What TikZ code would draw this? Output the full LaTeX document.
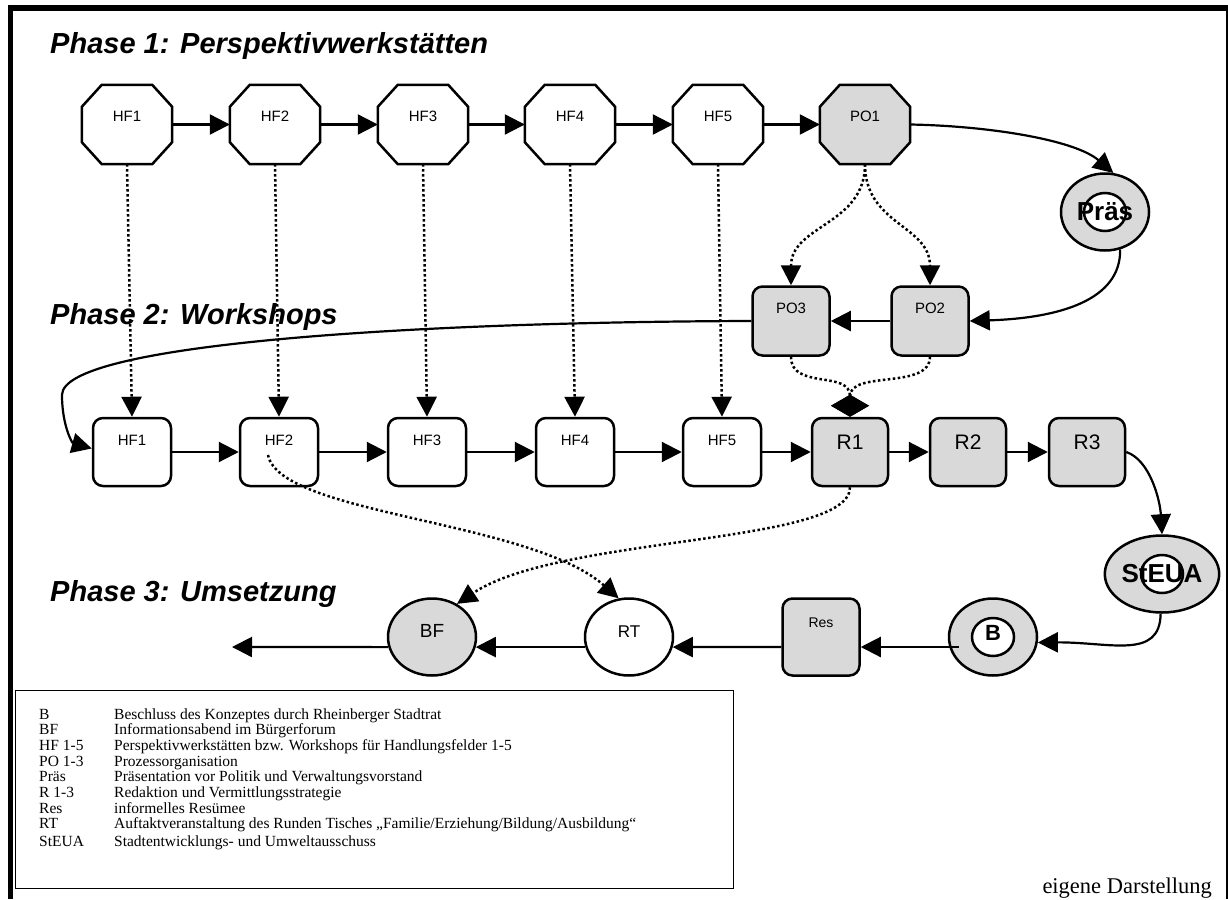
\documentclass[tikz,border=0pt]{standalone}
\usepackage{fontspec}
\setmainfont{Liberation Serif}
\setsansfont{Liberation Sans}
\usetikzlibrary{arrows.meta,calc,shapes.geometric,backgrounds}
\definecolor{nodegray}{RGB}{217,217,217}
\tikzset{
  title/.style={font=\sffamily\bfseries\itshape\fontsize{29}{29}\selectfont, inner sep=0pt},
  octo/.style={rectangle, draw=none, minimum width=90pt, minimum height=79pt, inner sep=0pt,
    text height=11pt, text depth=18pt, font=\sffamily\fontsize{15}{15}\selectfont},
  octline/.style={line width=2.5pt, line join=miter},
  rbox/.style={rectangle, rounded corners=10pt, draw, line width=2.5pt, inner sep=0pt, fill=#1},
  hfbox/.style={rbox=white, minimum width=78pt, minimum height=68pt, text height=11pt, text depth=24pt, font=\sffamily\fontsize{15}{15}\selectfont},
  rrbox/.style={rbox=nodegray, minimum width=76pt, minimum height=68pt, text height=15pt, text depth=20pt, font=\sffamily\fontsize{21}{21}\selectfont},
  pobox/.style={rbox=nodegray, minimum width=77pt, minimum height=69pt, text height=11pt, text depth=26pt, font=\sffamily\fontsize{15}{15}\selectfont},
  resbox/.style={rbox=nodegray, minimum width=77pt, minimum height=77pt, text height=10pt, text depth=30pt, font=\sffamily\fontsize{14}{14}\selectfont},
  ell/.style={ellipse, draw, line width=2.5pt, minimum width=88pt, minimum height=77pt, inner sep=0pt, fill=#1},
  dbl/.style={ell=nodegray, font=\sffamily\bfseries\fontsize{#1}{#1}\selectfont,
    path picture={\draw[line width=2.5pt, fill=white] (path picture bounding box.center) ellipse (21pt and 19pt);}},
  conn/.style={line width=2.2pt, -{Triangle[length=20pt,width=20pt]}},
  dot/.style={line width=2.5pt, dash pattern=on 2.5pt off 2.5pt, -{Triangle[length=20pt,width=20pt]}},
  dotd/.style={line width=2.5pt, dash pattern=on 2.5pt off 2.5pt, -{Diamond[length=22pt,width=38pt]}},
}
\begin{document}
\begin{tikzpicture}[x=1pt,y=-1pt]
\useasboundingbox (0,0) rectangle (1228,899);
% frame
\draw[line width=6pt] (8,8) -- (1228,8);
\draw[line width=5pt] (10,5) -- (10,899);
\draw[line width=1.5pt] (1227,8) -- (1227,899);

% titles
\node[title, anchor=base west] (t1) at (50,54) {Phase 1: Perspektivwerkstätten};
\node[title, anchor=base west] (t2) at (50,324) {Phase 2: Workshops};
\node[title, anchor=base west] (t3) at (50,601) {Phase 3: Umsetzung};

% phase 1
\node[octo] (a1) at (127,124.5) {HF1};
\node[octo] (a2) at (275,124.5) {HF2};
\node[octo] (a3) at (423,124.5) {HF3};
\node[octo] (a4) at (570,124.5) {HF4};
\node[octo] (a5) at (718,124.5) {HF5};
\node[octo] (a6) at (865,124.5) {PO1};
\begin{scope}[on background layer]
\foreach \n/\c in {a1/white,a2/white,a3/white,a4/white,a5/white,a6/nodegray}
  \draw[octline, fill=\c] ($(\n.north west)+(20,0)$) -- ($(\n.north east)+(-20,0)$) -- ($(\n.north east)+(0,22)$)
    -- ($(\n.south east)+(0,-22)$) -- ($(\n.south east)+(-20,0)$) -- ($(\n.south west)+(20,0)$)
    -- ($(\n.south west)+(0,-22)$) -- ($(\n.north west)+(0,22)$) -- cycle;
\end{scope}
\node[dbl=26] (pras) at (1105,212) {Präs};
\node[pobox] (po2) at (930,321) {PO2};
\node[pobox] (po3) at (791,321) {PO3};

% phase 2
\node[hfbox] (b1) at (132,452) {HF1};
\node[hfbox] (b2) at (279,452) {HF2};
\node[hfbox] (b3) at (427,452) {HF3};
\node[hfbox] (b4) at (575,452) {HF4};
\node[hfbox] (b5) at (722,452) {HF5};
\node[rrbox] (r1) at (850,452) {R1};
\node[rrbox] (r2) at (968,452) {R2};
\node[rrbox] (r3) at (1087,452) {R3};
\node[dbl=26] (steua) at (1162,574) {StEUA};

% phase 3
\node[dbl=22, text height=13pt, text depth=7pt] (bb) at (993,637) {B};
\node[resbox] (res) at (821,637) {Res};
\node[ell=white, text height=13pt, text depth=13pt, font=\sffamily\fontsize{17}{17}\selectfont] (rt) at (629,637) {RT};
\node[ell=nodegray, text height=14pt, text depth=14pt, font=\sffamily\fontsize{19}{19}\selectfont] (bf) at (432,637) {BF};
\coordinate (out) at (232,647);

% phase 1 connectors
\foreach \i/\j in {1/2,2/3,3/4,4/5,5/6} \draw[conn] (a\i.east) -- (a\j.west);
\draw[conn] (a6.east) .. controls (990,126) and (1075,140) .. (pras.78);
\draw[conn] (pras.-68) .. controls (1121,300) and (1060,318) .. (po2.east);
\draw[conn] (po2.west) -- (po3.east);
\draw[dot] (a6.south) .. controls (865,225) and (791,225) .. (po3.north);
\draw[dot] (a6.south) .. controls (865,225) and (930,225) .. (po2.north);
\draw[conn] (po3.west) .. controls (400,322) and (62,345) .. (62,395) .. controls (62,425) and (72,443) .. (b1.175);
\foreach \i in {1,...,5} \draw[dot] (a\i.south) -- (b\i.north);

% phase 2 connectors
\foreach \i/\j in {b1/b2,b2/b3,b3/b4,b4/b5,b5/r1,r1/r2,r2/r3} \draw[conn] (\i.east) -- (\j.west);
\draw[dotd] (po3.south) .. controls (791,390) and (850,370) .. (r1.north);
\draw[dotd] (po2.south) .. controls (930,390) and (850,370) .. (r1.north);
\draw[conn] (r3.east) .. controls (1150,460) and (1160,500) .. (steua.north);
\draw[conn] (steua.-92) .. controls (1160,660) and (1110,642) .. (bb.-7);
\draw[dot] ([xshift=-11pt,yshift=-3pt]b2.center) .. controls (280,515) and (530,520) .. (rt.105);
\draw[dot] (r1.south) .. controls (850,545) and (560,535) .. (bf.53);

% phase 3 connectors
\draw[conn] ([xshift=11pt,yshift=-10pt]bb.west) -- ([yshift=-10pt]res.east);
\draw[conn] ([yshift=-10pt]res.west) -- (rt.-13);
\draw[conn] (rt.193) -- (bf.-13);
\draw[conn] (bf.193) -- (out);

% legend
\node[draw, line width=1.3pt, minimum width=718pt, minimum height=198pt, anchor=north west, inner sep=0pt] (legend) at (15,690) {};
\node[anchor=base west, inner sep=0pt, font=\rmfamily\fontsize{15.5}{15.7}\selectfont] (legtext) at (39,719) {%
\begin{tabular}[t]{@{}p{75pt}@{}l@{}}
B & Beschluss des Konzeptes durch Rheinberger Stadtrat\\
BF & Informationsabend im Bürgerforum\\
HF 1-5 & Perspektivwerkstätten bzw. Workshops für Handlungsfelder 1-5\\
PO 1-3 & Prozessorganisation\\
Präs & Präsentation vor Politik und Verwaltungsvorstand\\
R 1-3 & Redaktion und Vermittlungsstrategie\\
Res & informelles Resümee\\
RT & Auftaktveranstaltung des Runden Tisches „Familie/Erziehung/Bildung/Ausbildung“\\[2.3pt]
StEUA & Stadtentwicklungs- und Umweltausschuss
\end{tabular}};
\node[anchor=base east, inner sep=0pt, font=\rmfamily\fontsize{22.5}{22.5}\selectfont] (credit) at (1212,893) {eigene Darstellung};
\end{tikzpicture}
\end{document}
